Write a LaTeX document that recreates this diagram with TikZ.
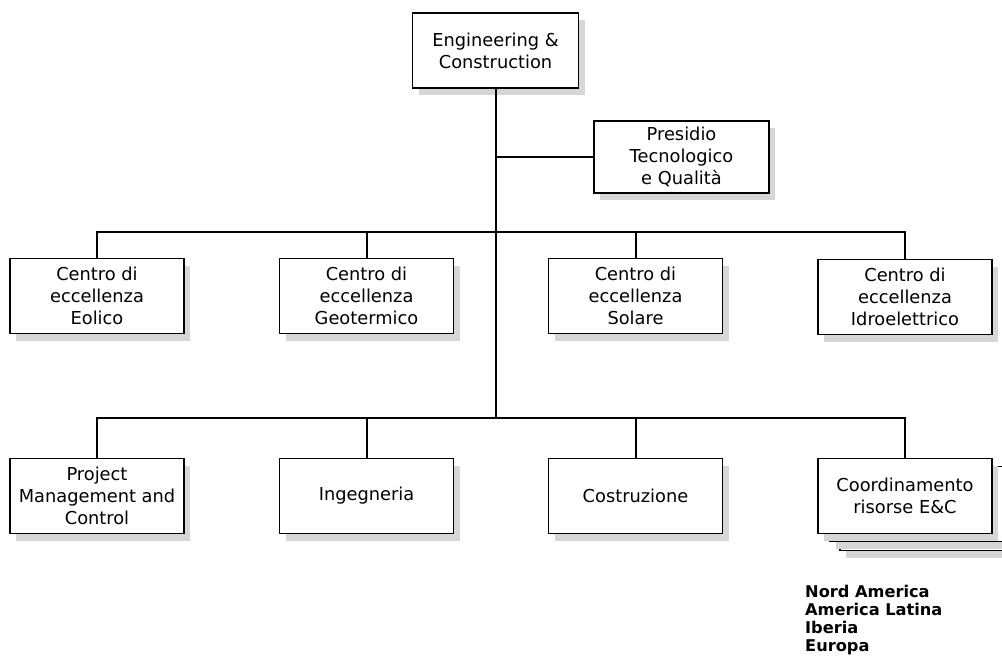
\documentclass[tikz,border=0pt]{standalone}
\usepackage{fontspec}
\setmainfont{DejaVu Sans}
\usetikzlibrary{shadows,calc}
\definecolor{shadowgray}{RGB}{214,214,214}
\tikzset{
  x=1pt, y=-1pt,
  unit/.style={draw=black, fill=white, line width=1.1pt, align=center,
    minimum width=174pt, minimum height=75pt, inner sep=0pt,
    font=\fontsize{17.8}{22}\selectfont,
    drop shadow={shadow xshift=6pt, shadow yshift=-7pt, fill=shadowgray, opacity=1}},
  conn/.style={draw=black, line width=2pt},
}
\begin{document}
\begin{tikzpicture}
\useasboundingbox (0,0) rectangle (1002,664);

% head of the organisation
\node[unit, minimum width=166pt] (top) at (495.5,50.5) {Engineering \&\\Construction};
\node[unit, minimum width=175pt, minimum height=72pt] (pres) at (681.5,157) {Presidio\\Tecnologico\\e Qualità};

% centres of excellence
\node[unit] (c1) at (97,296)    {Centro di\\eccellenza\\Eolico};
\node[unit] (c2) at (366.5,296) {Centro di\\eccellenza\\Geotermico};
\node[unit] (c3) at (635.5,296) {Centro di\\eccellenza\\Solare};
\node[unit] (c4) at (905,297)   {Centro di\\eccellenza\\Idroelettrico};

% operating units (the last one stacked for the regional units)
\node[unit] (s3) at (927,513) {};
\node[unit] (s2) at (917,504) {};
\node[unit] (f1) at (97,496)    {Project\\Management and\\Control};
\node[unit] (f2) at (366.5,496) {Ingegneria};
\node[unit] (f3) at (635.5,496) {Costruzione};
\node[unit] (f4) at (905,496)   {Coordinamento\\risorse E\&C};

% regional list
\node[anchor=north west, align=left, inner sep=0pt,
      font=\fontsize{16.2}{18.3}\selectfont\bfseries] (reg) at (805,584.5)
  {Nord America\\America Latina\\Iberia\\Europa};

% connectors
\coordinate (bus1) at ($(top.south |- c1.north)+(0,-26)$);
\coordinate (bus2) at ($(top.south |- f1.north)+(0,-40)$);
\draw[conn] (top.south) -- (bus2);
\draw[conn] (pres.west) -- (pres.west -| top.south);
\draw[conn] (c1.north) |- (bus1) -| (c4.north);
\draw[conn] (c2.north) -- (c2.north |- bus1);
\draw[conn] (c3.north) -- (c3.north |- bus1);
\draw[conn] (f1.north) |- (bus2) -| (f4.north);
\draw[conn] (f2.north) -- (f2.north |- bus2);
\draw[conn] (f3.north) -- (f3.north |- bus2);
\end{tikzpicture}
\end{document}
